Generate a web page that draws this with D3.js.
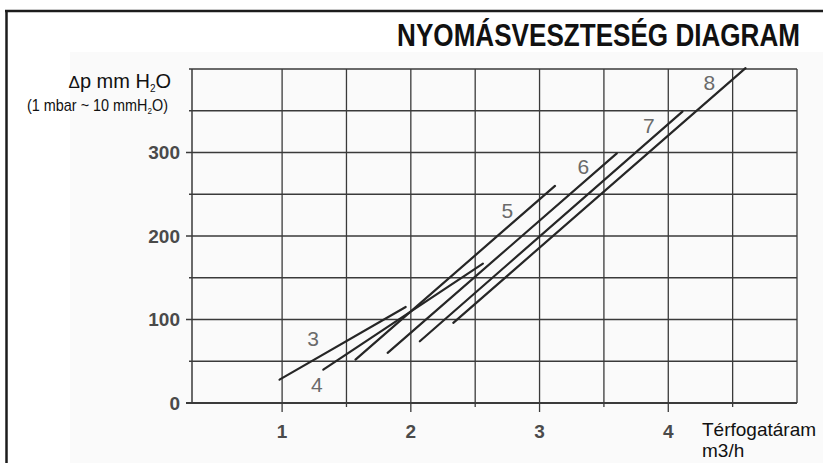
<!DOCTYPE html>
<html>
<head>
<meta charset="utf-8">
<script src="https://cdn.jsdelivr.net/npm/d3@7"></script>
<style>
  html, body { margin: 0; padding: 0; background: #ffffff; }
  svg { display: block; }
</style>
</head>
<body>
<svg id="chart" width="823" height="463"></svg>
<script>
// ---- data ----
const seriesNames = ["3", "4", "5", "6", "7", "8"];
const startFlow = [0.98, 1.32, 1.57, 1.82, 2.07, 2.33];
const startDp   = [28, 40, 52, 60, 74, 96];
const endFlow   = [1.96, 2.56, 3.12, 3.60, 4.11, 4.60];
const endDp     = [115, 167, 260, 299, 349, 401];
const labelFlow = [1.24, 1.27, 2.75, 3.34, 3.85, 4.32];
const labelDp   = [77, 22, 231, 283, 332, 384];
const xTickValues = [1, 2, 3, 4];
const xGridValues = [1, 1.5, 2, 2.5, 3, 3.5, 4, 4.5, 5];
const yTickValues = [0, 100, 200, 300];
const yGridValues = [0, 50, 100, 150, 200, 250, 300, 350, 400];
const titleText = "NYOMÁSVESZTESÉG DIAGRAM";

// ---- layout ----
const svg = d3.select("#chart");
const x = d3.scaleLinear().domain([0.3, 5]).range([192, 797]);
const y = d3.scaleLinear().domain([0, 400]).range([403, 69]);
const gridColor = "#3a3a3a";
const narrow = "'Liberation Sans Narrow', 'Arial Narrow', 'Liberation Sans', Arial, sans-serif";
const sans = "'Liberation Sans', Arial, Helvetica, sans-serif";

// condense a text horizontally to a target width, anchored at its right end
function condense(sel, rightX, baseY, width) {
  const w = sel.node().getComputedTextLength();
  const s = Math.min(1, width / w);
  sel.attr("text-anchor", "end").attr("x", 0).attr("y", 0)
     .attr("transform", `translate(${rightX},${baseY}) scale(${s},1)`);
}

// faint scanned background
svg.append("rect").attr("x", 70).attr("y", 52).attr("width", 753).attr("height", 411).attr("fill", "#fafafa");

// outer frame (top and left)
svg.append("line").attr("x1", 5).attr("x2", 823).attr("y1", 11).attr("y2", 11)
  .attr("stroke", "#1c1c1c").attr("stroke-width", 2.5);
svg.append("line").attr("x1", 6.5).attr("x2", 6.5).attr("y1", 10).attr("y2", 463)
  .attr("stroke", "#1c1c1c").attr("stroke-width", 2.5);

// title (condensed)
const title = svg.append("text")
  .attr("font-family", narrow).attr("font-weight", "bold").attr("font-size", 32)
  .attr("fill", "#111").text(titleText);
condense(title, 800, 46, 403);

// grid: horizontal lines (extend left a bit as ticks)
const g = svg.append("g");
g.selectAll("line.h").data(yGridValues).join("line").attr("class", "h")
  .attr("x1", d => yTickValues.includes(d) ? x(0.3) - 6 : x(0.3) - 3)
  .attr("x2", x(5))
  .attr("y1", d => y(d)).attr("y2", d => y(d))
  .attr("stroke", gridColor).attr("stroke-width", d => d === 0 ? 1.8 : 1.3);

// grid: vertical lines (extend below axis as ticks)
g.selectAll("line.v").data(xGridValues).join("line").attr("class", "v")
  .attr("x1", d => x(d)).attr("x2", d => x(d))
  .attr("y1", y(400))
  .attr("y2", d => xTickValues.includes(d) ? y(0) + 9 : (d === 5 ? y(0) : y(0) + 4))
  .attr("stroke", gridColor).attr("stroke-width", 1.3);
g.append("line").attr("x1", x(0.3)).attr("x2", x(0.3)).attr("y1", y(400)).attr("y2", y(0))
  .attr("stroke", gridColor).attr("stroke-width", 1.5);

// tick labels
svg.selectAll("text.yt").data(yTickValues).join("text").attr("class", "yt")
  .attr("x", 180).attr("y", d => y(d)).attr("dy", "0.36em").attr("text-anchor", "end")
  .attr("font-family", sans).attr("font-weight", "bold").attr("font-size", 19)
  .attr("fill", "#4a4a4a").text(d => d);
svg.selectAll("text.xt").data(xTickValues).join("text").attr("class", "xt")
  .attr("x", d => x(d)).attr("y", 438).attr("text-anchor", "middle")
  .attr("font-family", sans).attr("font-weight", "bold").attr("font-size", 19)
  .attr("fill", "#4a4a4a").text(d => d);

// axis titles
const yl = svg.append("text").attr("x", 171).attr("y", 88).attr("text-anchor", "end")
  .attr("font-family", sans).attr("font-size", 20).attr("fill", "#111");
yl.append("tspan").attr("font-size", 17).text("Δ");
yl.append("tspan").text("p mm H");
yl.append("tspan").attr("font-size", 10).attr("dy", 4).text("2");
yl.append("tspan").attr("dy", -4).text("O");

const yl2 = svg.append("text")
  .attr("font-family", narrow).attr("font-size", 16).attr("fill", "#111");
yl2.append("tspan").text("(1 mbar ~ 10 mmH");
yl2.append("tspan").attr("font-size", 9).attr("dy", 3).text("2");
yl2.append("tspan").attr("dy", -3).text("O)");
condense(yl2, 168, 111, 141);

svg.append("text").attr("x", 702).attr("y", 436)
  .attr("font-family", sans).attr("font-size", 19).attr("fill", "#111").text("Térfogatáram");
svg.append("text").attr("x", 702).attr("y", 457)
  .attr("font-family", sans).attr("font-size", 19).attr("fill", "#111").text("m3/h");

// data lines
const lineGen = d3.line().x(d => x(d[0])).y(d => y(d[1]));
const curves = seriesNames.map((n, i) => ({
  name: n,
  pts: [[startFlow[i], startDp[i]], [endFlow[i], endDp[i]]],
  lx: labelFlow[i], ly: labelDp[i]
}));
svg.append("g").selectAll("path").data(curves).join("path")
  .attr("d", d => lineGen(d.pts))
  .attr("fill", "none").attr("stroke", "#262626").attr("stroke-width", 2.2)
  .attr("stroke-linecap", "round");

svg.append("g").selectAll("text").data(curves).join("text")
  .attr("x", d => x(d.lx)).attr("y", d => y(d.ly)).attr("dy", "0.36em")
  .attr("text-anchor", "middle")
  .attr("font-family", sans).attr("font-size", 21).attr("fill", "#6a6a6a")
  .text(d => d.name);
</script>
</body>
</html>
